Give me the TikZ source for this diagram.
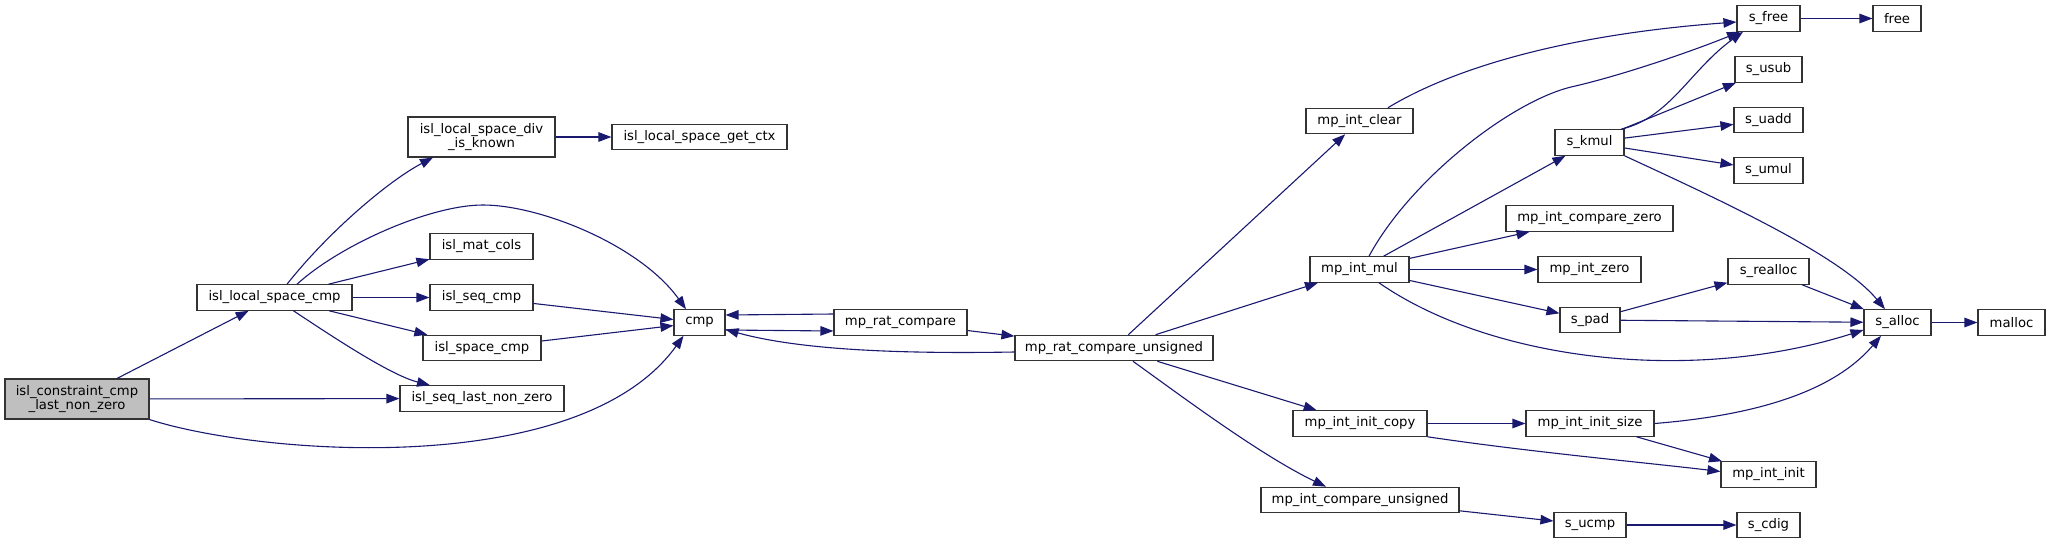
\documentclass[tikz,border=0pt]{standalone}
\usepackage{fontspec}
\setmainfont{DejaVu Sans}
\usepackage{tikz}
\usetikzlibrary{arrows.meta}
\definecolor{mNavy}{HTML}{191970}
\definecolor{mGray}{HTML}{BFBFBF}
\definecolor{mLine}{HTML}{333333}

\begin{document}
\begin{tikzpicture}[x=1pt, y=-1pt,
      fn/.style={draw=mLine, line width=1.1pt, fill=white, minimum width=#1,
                 minimum height=25.5pt, inner sep=0pt, align=center,
                 font=\fontsize{13.2}{14.5}\selectfont},
      call/.style={mNavy, line width=1.1pt, -{Triangle[length=13pt, width=9.5pt]}}]
    \useasboundingbox (0,0) rectangle (2051,544);
    % isl side
    \node[fn=144pt, fill=mGray, minimum height=40pt] (icc) at (77,399) {isl\_constraint\_cmp\\\_last\_non\_zero};
    \node[fn=155pt] (lsc)  at (274.5,297.5) {isl\_local\_space\_cmp};
    \node[fn=147pt, minimum height=40pt] (dik) at (481.5,137) {isl\_local\_space\_div\\\_is\_known};
    \node[fn=175pt] (ctx)  at (699.5,137)   {isl\_local\_space\_get\_ctx};
    \node[fn=103pt] (mat)  at (481.5,246.5) {isl\_mat\_cols};
    \node[fn=103pt] (seqc) at (481.5,297.5) {isl\_seq\_cmp};
    \node[fn=118pt] (spc)  at (482,348)     {isl\_space\_cmp};
    \node[fn=164pt] (lnz)  at (482,398.5)   {isl\_seq\_last\_non\_zero};
    \node[fn=51pt]  (cmp)  at (699.5,322.5) {cmp};
    \node[fn=133pt] (mrc)  at (900.5,322.5) {mp\_rat\_compare};
    \node[fn=198pt] (mrcu) at (1114,348)    {mp\_rat\_compare\_unsigned};
    % imath side
    \node[fn=107pt] (clr)  at (1359.5,121)   {mp\_int\_clear};
    \node[fn=99pt]  (mul)  at (1359.5,269.5) {mp\_int\_mul};
    \node[fn=134pt] (icp)  at (1360,423.5)   {mp\_int\_init\_copy};
    \node[fn=198pt] (icu)  at (1360,500)     {mp\_int\_compare\_unsigned};
    \node[fn=69pt]  (kmul) at (1589.5,142.5) {s\_kmul};
    \node[fn=167pt] (icz)  at (1589.5,218.5) {mp\_int\_compare\_zero};
    \node[fn=103pt] (zero) at (1589.5,269.5) {mp\_int\_zero};
    \node[fn=60pt]  (pad)  at (1590,320)     {s\_pad};
    \node[fn=128pt] (isz)  at (1590,423.5)   {mp\_int\_init\_size};
    \node[fn=72pt]  (ucmp) at (1590,525)     {s\_ucmp};
    \node[fn=63pt]  (sfree)   at (1768.5,18.5)  {s\_free};
    \node[fn=67pt]  (usub)    at (1768.5,69.5)  {s\_usub};
    \node[fn=69pt]  (uadd)    at (1768.5,120)   {s\_uadd};
    \node[fn=69pt]  (umul)    at (1768.5,170.5) {s\_umul};
    \node[fn=81pt]  (realloc) at (1768.5,271.5) {s\_realloc};
    \node[fn=95pt]  (init)    at (1768.5,474.5) {mp\_int\_init};
    \node[fn=63pt]  (cdig)    at (1768.5,525)   {s\_cdig};
    \node[fn=48pt]  (free)    at (1897,18.5)    {free};
    \node[fn=67pt]  (alloc)   at (1897.5,322.5) {s\_alloc};
    \node[fn=67pt]  (malloc)  at (2011.5,322.5) {malloc};
    % calls
    \draw[call] (icc) -- (lsc);
    \draw[call] (icc) -- (lnz);
    \draw[call] (icc.south east) .. controls (260,455) and (580,480) .. ([xshift=-16pt]cmp.south);
    \draw[call] ([xshift=12.5pt]lsc.north) .. controls (330,230) and (390,180) .. ([xshift=-48.5pt]dik.south);
    \draw[call] ([xshift=22.5pt]lsc.north) .. controls (340,245) and (430,205) .. (483,205)
                .. controls (540,205) and (640,245) .. ([xshift=-13.5pt]cmp.north);
    \draw[call] (lsc) -- (mat);
    \draw[call] (lsc) -- (seqc);
    \draw[call] (lsc) -- (spc);
    \draw[call] ([xshift=19pt]lsc.south) .. controls (330,335) and (390,375) .. ([xshift=-52pt]lnz.north);
    \draw[call] (dik) -- (ctx);
    \draw[call] (seqc) -- (cmp);
    \draw[call] (spc) -- (cmp);
    \draw[call] ([yshift=-7.5pt]cmp.east) -- ([yshift=-8.5pt]mrc.west);
    \draw[call] ([yshift=8.5pt]mrc.west) -- ([yshift=7.5pt]cmp.east);
    \draw[call] (mrc) -- (mrcu);
    \draw[call] ([yshift=-4pt]mrcu.west) .. controls (900,354) and (800,350) .. ([yshift=-7pt]cmp.east);
    \draw[call] (mrcu) -- (clr);
    \draw[call] (mrcu) -- (mul);
    \draw[call] (mrcu) -- (icp);
    \draw[call] ([xshift=19pt]mrcu.south) .. controls (1180,395) and (1260,455) .. ([xshift=-34pt]icu.north);
    \draw[call] ([xshift=28.5pt]clr.north) .. controls (1450,70) and (1560,35) .. ([yshift=-3.5pt]sfree.west);
    \draw[call] ([xshift=9.5pt]mul.north) .. controls (1410,180) and (1510,102) .. (1571,87)
                .. controls (1620,76) and (1690,52) .. ([xshift=-28.5pt]sfree.south);
    \draw[call] (mul) -- (kmul);
    \draw[call] (mul) -- (icz);
    \draw[call] (mul) -- (zero);
    \draw[call] (mul) -- (pad);
    \draw[call] ([xshift=19.5pt]mul.south) .. controls (1490,360) and (1690,385) .. ([yshift=-7.5pt]alloc.west);
    \draw[call] ([xshift=31.5pt]kmul.north) .. controls (1670,118) and (1690,70) .. ([xshift=-25.5pt]sfree.south);
    \draw[call] (kmul) -- (usub);
    \draw[call] (kmul) -- (uadd);
    \draw[call] (kmul) -- (umul);
    \draw[call] (kmul.south east) .. controls (1720,200) and (1840,255) .. ([xshift=-12.5pt]alloc.north);
    \draw[call] (realloc) -- (alloc);
    \draw[call] (pad) -- (realloc);
    \draw[call] (pad) -- (alloc);
    \draw[call] (isz.east) .. controls (1760,415) and (1835,390) .. ([xshift=-16.5pt]alloc.south);
    \draw[call] (isz) -- (init);
    \draw[call] (icp) -- (isz);
    \draw[call] (icp.south east) .. controls (1530,452) and (1640,462) .. ([yshift=3pt]init.west);
    \draw[call] (icu) -- (ucmp);
    \draw[call] (ucmp) -- (cdig);
    \draw[call] (alloc) -- (malloc);
    \draw[call] (sfree) -- (free);
  \end{tikzpicture}
\end{document}
